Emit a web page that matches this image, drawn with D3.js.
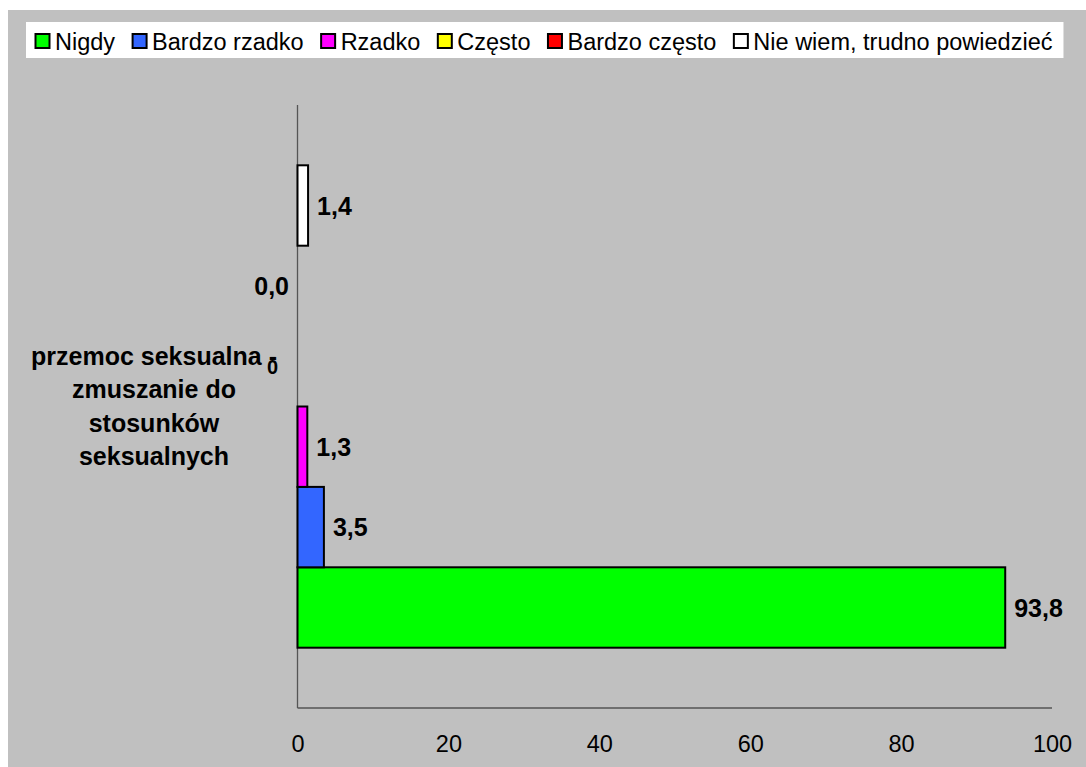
<!DOCTYPE html>
<html><head><meta charset="utf-8">
<script src="https://cdn.jsdelivr.net/npm/d3@7"></script>
<style>body{margin:0;background:#fff;}svg{display:block;font-family:"Liberation Sans",Arial,sans-serif;}</style>
</head><body>
<svg id="chart" width="1086" height="767"></svg>
<script>
const seriesNames = ["Nigdy","Bardzo rzadko","Rzadko","Często","Bardzo często","Nie wiem, trudno powiedzieć"];
const seriesColors = ["#00ff00","#3366ff","#ff00ff","#ffff00","#ff0000","#ffffff"];
const seriesValues = [93.8, 3.5, 1.3, 0, 0, 1.4];
const valueLabels = ["93,8","3,5","1,3","0","0,0","1,4"];
const categoryLines = ["przemoc seksualna -","zmuszanie do","stosunków","seksualnych"];
const xTicks = [0,20,40,60,80,100];

const svg = d3.select("#chart");
svg.append("rect").attr("x",8).attr("y",10).attr("width",1078).attr("height",757).attr("fill","#c0c0c0");

// legend
const lg = svg.append("g");
const lgBox = lg.append("rect").attr("x",26).attr("y",22).attr("height",36).attr("fill","#fff");
let lx = 34.5;
let lastEnd = 0;
seriesNames.forEach((n,i)=>{
  lg.append("rect").attr("x",lx+1).attr("y",34).attr("width",14).attr("height",14)
    .attr("fill",seriesColors[i]).attr("stroke","#000").attr("stroke-width",2);
  const t = lg.append("text").attr("x",lx+20.5).attr("y",49.5).attr("font-size",23.5).attr("fill","#000").text(n);
  lastEnd = lx + 20.5 + t.node().getComputedTextLength();
  lx = lastEnd + 16.5;
});
lgBox.attr("width", lastEnd + 11 - 26);

const x = d3.scaleLinear().domain([0,100]).range([297.5,1052]);
const y = d3.scaleBand().domain(d3.range(seriesNames.length).reverse()).range([105,708]).paddingInner(0).paddingOuter(0.75);

// axes lines
svg.append("line").attr("x1",x(0)).attr("x2",x(0)).attr("y1",105).attr("y2",708).attr("stroke","#555").attr("stroke-width",1.3);
svg.append("line").attr("x1",x(0)).attr("x2",x(100)).attr("y1",708).attr("y2",708).attr("stroke","#555").attr("stroke-width",1.3);

const xAxis = svg.append("g").attr("transform","translate(0,708)")
  .call(d3.axisBottom(x).tickValues(xTicks).tickSize(0).tickPadding(27).tickFormat(d3.format("d")));
xAxis.select(".domain").remove();
xAxis.selectAll("text").attr("font-size",23.5).attr("font-family","Liberation Sans, Arial, sans-serif").attr("fill","#000");

// bars
const idx = d3.range(seriesNames.length);
svg.append("g").selectAll("rect").data(idx.filter(i=>seriesValues[i]>0)).join("rect")
  .attr("x",x(0)).attr("y",i=>y(i)).attr("width",i=>x(seriesValues[i])-x(0)).attr("height",y.bandwidth())
  .attr("fill",i=>seriesColors[i]).attr("stroke","#000").attr("stroke-width",2);

// category label
const cat = svg.append("text").attr("text-anchor","middle").attr("font-size",25).attr("font-weight","bold").attr("fill","#000");
categoryLines.forEach((l,k)=>{
  cat.append("tspan").attr("x",154).attr("y",365 + k*33.4).text(l);
});

// value labels
svg.append("g").selectAll("text").data(idx).join("text")
  .attr("x",i=> seriesValues[i]>0 ? x(seriesValues[i])+9 : (seriesNames[i]==="Często" ? x(0)-19.5 : x(0)-8.5))
  .attr("text-anchor",i=> seriesValues[i]>0 ? "start" : "end")
  .attr("y",i=>y(i)+y.bandwidth()/2)
  .attr("dy","0.36em").attr("font-size",i=>seriesNames[i]==="Często"?20:25).attr("font-weight","bold").attr("fill","#000")
  .text(i=>valueLabels[i]);
</script>
</body></html>
